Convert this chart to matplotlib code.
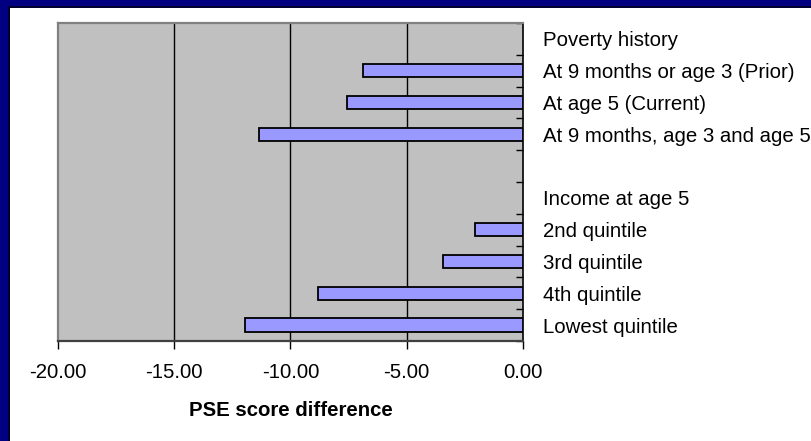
import matplotlib
matplotlib.use("Agg")
import matplotlib.pyplot as plt
import numpy as np
from matplotlib.patches import Rectangle

categories = ["Poverty history",
              "At 9 months or age 3 (Prior)",
              "At age 5 (Current)",
              "At 9 months, age 3 and age 5",
              "",
              "Income at age 5",
              "2nd quintile",
              "3rd quintile",
              "4th quintile",
              "Lowest quintile"]
values = [np.nan, -6.9, -7.55, -11.35, np.nan, np.nan, -2.05, -3.45, -8.8, -11.95]
xticks = [-20, -15, -10, -5, 0]
xtick_labels = ["-20.00", "-15.00", "-10.00", "-5.00", "0.00"]

plt.rcParams['font.family'] = ['Liberation Sans', 'DejaVu Sans']

W, H = 811, 441
fig = plt.figure(figsize=(W/100, H/100), dpi=100)
fig.patch.set_facecolor("white")

# navy frame (top and left)
fig.patches.append(Rectangle((0, 1 - 6/H), 1, 6/H, transform=fig.transFigure,
                             facecolor="#000080", edgecolor="none", zorder=0))
fig.patches.append(Rectangle((0, 0), 8/W, 1, transform=fig.transFigure,
                             facecolor="#000080", edgecolor="none", zorder=0))
fig.patches.append(Rectangle((8/W, 0), 1.5/W, 1 - 6/H, transform=fig.transFigure,
                             facecolor="#000030", edgecolor="none", zorder=0))
fig.patches.append(Rectangle((8/W, 1 - 7.5/H), 1 - 8/W, 1.5/H, transform=fig.transFigure,
                             facecolor="#000030", edgecolor="none", zorder=0))

x0, x1 = 58, 523
y_top, y_bot = 23, 341
ax = fig.add_axes([x0/W, (H - y_bot)/H, (x1 - x0)/W, (y_bot - y_top)/H])
ax.set_facecolor("#C0C0C0")

n = len(categories)
ypos = np.arange(n)
ax.barh(ypos, values, height=0.42, color="#9999FF", edgecolor="black", linewidth=1.3, zorder=3)

ax.set_xlim(-20, 0)
ax.set_ylim(n - 0.5, -0.5)

for xv in xticks[1:-1]:
    ax.axvline(xv, color="black", linewidth=1.0, zorder=1)

ax.set_xticks(xticks)
ax.set_xticklabels(xtick_labels, fontsize=14.7)
ax.tick_params(axis="x", direction="out", length=6, width=1.0, color="black", pad=9.5)

ax.yaxis.tick_right()
ax.set_yticks(ypos)
ax.set_yticklabels(categories, fontsize=14.7, ha="left")
ax.set_yticks(np.arange(n + 1) - 0.5, minor=True)
ax.tick_params(axis="y", which="major", length=0, pad=14.4)
ax.tick_params(axis="y", which="minor", direction="in", length=5, width=1.0, color="black")

for s in ["left", "top"]:
    ax.spines[s].set_color("#808080")
    ax.spines[s].set_linewidth(1.6)
ax.spines["bottom"].set_color("#404040")
ax.spines["bottom"].set_linewidth(1.6)
ax.spines["right"].set_color("black")
ax.spines["right"].set_linewidth(1.2)

ax.set_xlabel("PSE score difference", fontsize=14.7, fontweight="bold", labelpad=14)

fig.savefig("out.png", dpi=100, facecolor=fig.get_facecolor())
